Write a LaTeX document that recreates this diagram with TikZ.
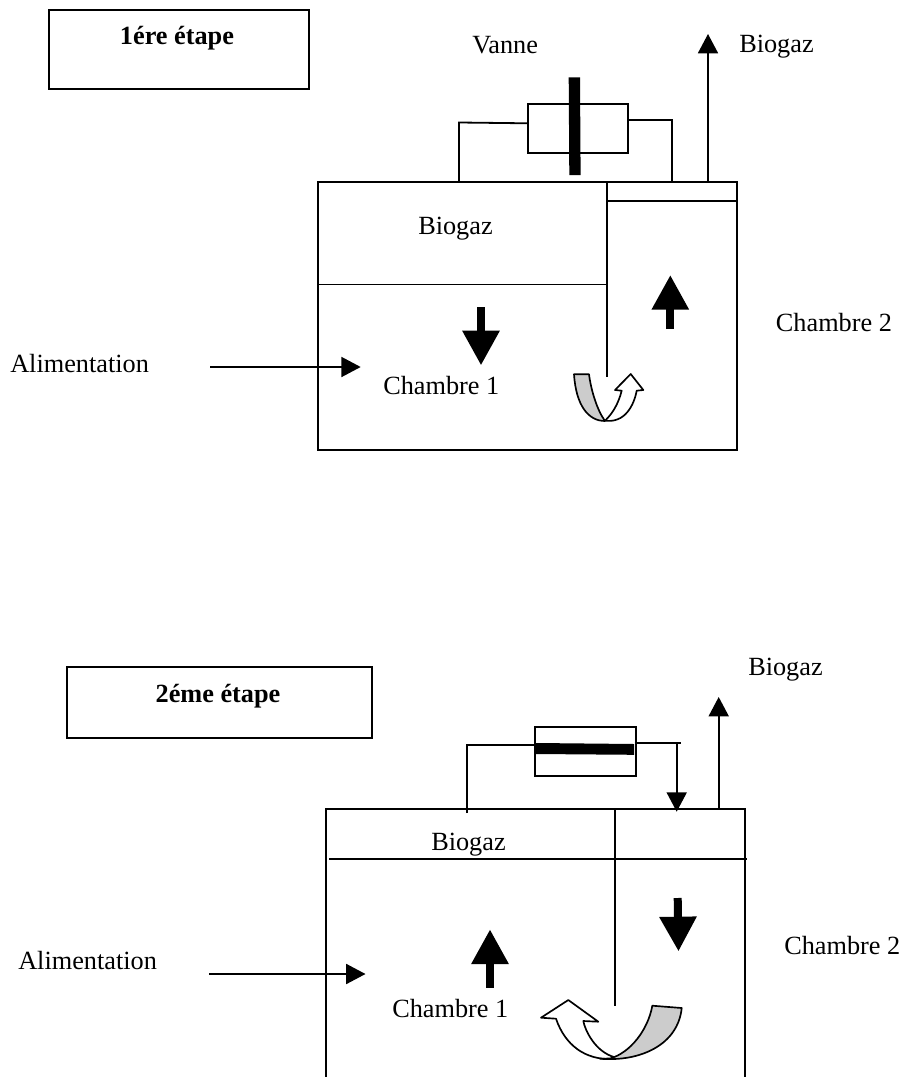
\documentclass[tikz,border=0pt]{standalone}
\usepackage{fontspec}
\setmainfont{Liberation Serif}
\usetikzlibrary{arrows.meta}
\definecolor{bandgrey}{RGB}{204,204,204}
\tikzset{
  wire/.style={draw=black,line width=1.35pt},
  flow/.style={wire,-{Triangle[length=14.5pt,width=15pt]}},
  bigflow/.style={draw=black,line width=6pt,-{Triangle[length=26pt,width=26.5pt]},shorten >=-0.5pt},
  label/.style={anchor=base west,inner sep=0pt,font=\fontsize{19.7}{23}\selectfont},
  stagelabel/.style={anchor=base,inner sep=0pt,font=\fontsize{19.7}{23}\selectfont\bfseries},
  framebox/.style={draw=black,line width=1.35pt,inner sep=0pt,anchor=north west},
  band/.style={draw=black,line width=1.25pt,line join=round,fill=bandgrey},
  whitearrow/.style={draw=black,line width=1.25pt,line join=round,fill=white},
}
\begin{document}
\begin{tikzpicture}[x=0.75pt,y=-0.75pt]
\useasboundingbox (0,0) rectangle (902,1077);
% ---------- stage 1 ----------
\node[framebox,minimum width=195pt,minimum height=58.9pt] (stageA) at (48,9.5) {};
\node[stagelabel] (stageAtext) at (177,45) {1ére étape};
\node[framebox,minimum width=314.3pt,minimum height=201pt] (chamberA) at (317,181) {};
\node[framebox,fill=white,minimum width=74.8pt,minimum height=36.8pt] (valveA) at (527,103) {};
\fill[black] (568.7,77.3) -- (580,77.3) -- (580.6,175) -- (569.3,175) -- cycle;
\coordinate (pipeAl0) at (459,181);
\coordinate (pipeAl1) at (459,122.5);
\coordinate (pipeAl2) at (527,123.3);
\draw[wire] (pipeAl0) -- (pipeAl1) -- (pipeAl2);
\coordinate (pipeAr0) at (627,120);
\coordinate (pipeAr1) at (672.3,120);
\coordinate (pipeAr2) at (672.3,183);
\draw[wire] (pipeAr0) -- (pipeAr1) -- (pipeAr2);
\coordinate (gasA0) at (708,181);
\coordinate (gasA1) at (708,34);
\draw[flow] (gasA0) -- (gasA1);
\coordinate (divA0) at (606.7,181);
\coordinate (divA1) at (606.7,376.7);
\draw[wire] (divA0) -- (divA1);
\coordinate (levA0) at (317,284.5);
\coordinate (levA1) at (606.7,284.5);
\draw[wire] (levA0) -- (levA1);
\coordinate (levA2) at (606.7,201);
\coordinate (levA3) at (738,201);
\draw[wire] (levA2) -- (levA3);
\coordinate (feedA0) at (210,367);
\coordinate (feedA1) at (360.7,367);
\draw[flow] (feedA0) -- (feedA1);
\coordinate (downA0) at (481,307);
\coordinate (downA1) at (481,364.7);
\draw[bigflow] (downA0) -- (downA1);
\coordinate (upA0) at (670.3,329);
\coordinate (upA1) at (670.3,275.7);
\draw[bigflow] (upA0) -- (upA1);
% curved arrow, stage 1
\path[whitearrow] (604,420.5) .. controls (625,424) and (634,405) .. (636.7,390.7)
  -- (643.3,390) -- (630.7,374) -- (615,390) -- (621.7,390.7)
  .. controls (618,405) and (612,414) .. (605,420.7) -- cycle;
\path[band] (574,374.3) -- (589,374.3) .. controls (591,390) and (597,410) .. (605,421)
  .. controls (588,421) and (576,405) .. (574,374.3) -- cycle;
\node[label] (vanneA) at (472,54) {Vanne};
\node[label] (biogasA1) at (739,53) {Biogaz};
\node[label] (biogasA2) at (418,234) {Biogaz};
\node[label] (feedAtext) at (10,372) {Alimentation};
\node[label] (chA1) at (383,394) {Chambre 1};
\node[label] (chA2) at (775.7,331) {Chambre 2};
% ---------- stage 2 ----------
\node[framebox,minimum width=228.7pt,minimum height=53.2pt] (stageB) at (66,666) {};
\node[stagelabel] (stageBtext) at (218,702) {2éme étape};
\coordinate (wallB0) at (326,1077);
\coordinate (wallB1) at (326,809);
\coordinate (wallB2) at (744.7,809);
\coordinate (wallB3) at (744.7,1077);
\draw[wire] (wallB0) -- (wallB1) -- (wallB2) -- (wallB3);
\node[framebox,minimum width=75.3pt,minimum height=37pt] (valveB) at (534.3,726) {};
\fill[black] (536,743) -- (634,744) -- (634,754.8) -- (536,754) -- cycle;
\coordinate (pipeBl0) at (466.7,813);
\coordinate (pipeBl1) at (466.7,743.5);
\coordinate (pipeBl2) at (466.7,745.3);
\coordinate (pipeBl3) at (534.3,745.3);
\draw[wire] (pipeBl0) -- (pipeBl1);
\draw[wire] (pipeBl2) -- (pipeBl3);
\coordinate (pipeBr0) at (634.7,743.3);
\coordinate (pipeBr1) at (680.7,743.3);
\draw[wire] (pipeBr0) -- (pipeBr1);
\coordinate (dropB0) at (676.7,743.3);
\coordinate (dropB1) at (676.7,811.7);
\draw[flow] (dropB0) -- (dropB1);
\coordinate (gasB0) at (718.7,809);
\coordinate (gasB1) at (718.7,697);
\draw[flow] (gasB0) -- (gasB1);
\coordinate (divB0) at (615,809);
\coordinate (divB1) at (615,1005.7);
\draw[wire] (divB0) -- (divB1);
\coordinate (levB0) at (329,859.3);
\coordinate (levB1) at (746.7,859.3);
\draw[wire] (levB0) -- (levB1);
\coordinate (feedB0) at (209,974);
\coordinate (feedB1) at (365.5,974);
\draw[flow] (feedB0) -- (feedB1);
\coordinate (upB0) at (490,987.7);
\coordinate (upB1) at (490,930);
\draw[bigflow] (upB0) -- (upB1);
\coordinate (downB0) at (677.7,898);
\coordinate (downB1) at (678.5,950.7);
\draw[bigflow] (downB0) -- (downB1);
% curved arrow, stage 2
\path[whitearrow] (615,1057.3) .. controls (595,1052) and (585,1030) .. (583.3,1021)
  -- (598.3,1021.7) -- (568.3,1000) -- (541,1017.7) -- (556,1018.7)
  .. controls (565,1045) and (585,1060) .. (612,1059) -- cycle;
\path[band] (652.3,1005.7) -- (681.7,1008) .. controls (678,1045) and (640,1062) .. (600,1058.7)
  -- (610,1058.5) .. controls (630,1053) and (648,1030) .. (652.3,1005.7) -- cycle;
\node[label] (biogasB1) at (748,675) {Biogaz};
\node[label] (biogasB2) at (431,850) {Biogaz};
\node[label] (feedBtext) at (18,969) {Alimentation};
\node[label] (chB1) at (392,1017) {Chambre 1};
\node[label] (chB2) at (784,954) {Chambre 2};
\end{tikzpicture}
\end{document}
